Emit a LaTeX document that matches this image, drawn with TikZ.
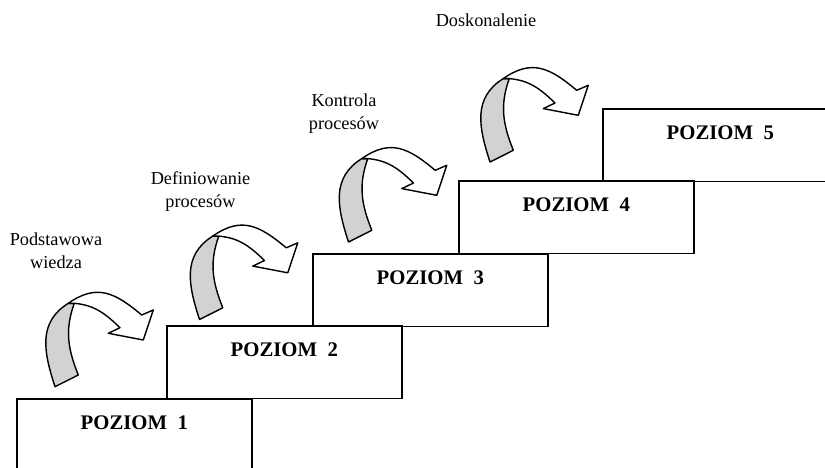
\documentclass[tikz,border=0pt]{standalone}
\usepackage{fontspec}
\setmainfont{Liberation Serif}
\usetikzlibrary{positioning}

\begin{document}
\begin{tikzpicture}[
    level/.style={rectangle, draw, line width=0.9pt, anchor=north west, minimum width=4.7cm, minimum height=1.45cm, inner ysep=0pt, text height=0.615cm, text depth=0.835cm, font=\fontsize{11.8}{14}\selectfont\bfseries},
    stage/.style={align=center, inner sep=0pt, anchor=north, font=\fontsize{10.4}{13.2}\selectfont},
    tail/.style={fill=gray!35, draw, line width=0.8pt, line join=round},
    band/.style={fill=white, draw, line width=0.8pt, line join=round},
    bentarrow/.pic={
        \filldraw[tail] (0.266,1.668) to[out=212, in=108, looseness=1.1] (0,0) -- (0.466,0.234) to[out=112, in=250] (0.386,1.668) -- cycle;
        \filldraw[band] (0.266,1.668) to[out=35, in=140, looseness=1.2] (1.734,1.434) -- (1.966,1.534) -- (1.766,0.934) -- (1.066,1.068) -- (1.3,1.18) to[out=136, in=-5] (0.386,1.668) -- cycle;
    }
]

\useasboundingbox (0,0) rectangle (16.5,9.34);
\clip (0,0) rectangle (16.5,9.34);

\node[level] (poziom1) at (0.32,1.38) {POZIOM~~1};
\node[level] (poziom2) at (3.32,2.84) {POZIOM~~2};
\node[level] (poziom3) at (6.24,4.28) {POZIOM~~3};
\node[level] (poziom4) at (9.16,5.74) {POZIOM~~4};
\node[level] (poziom5) at (12.04,7.18) {POZIOM~~5};

\node[stage] (wiedza) at (1.12,4.69) {Podstawowa\\wiedza};
\node[stage] (definiowanie) at (4.01,5.92) {Definiowanie\\procesów};
\node[stage] (kontrola) at (6.88,7.47) {Kontrola\\procesów};
\node[stage] (doskonalenie) at (9.72,9.08) {Doskonalenie};

\pic at (1.10,1.606) {bentarrow};
\pic at (3.99,2.95) {bentarrow};
\pic at (6.97,4.50) {bentarrow};
\pic at (9.80,6.10) {bentarrow};

\end{tikzpicture}
\end{document}
